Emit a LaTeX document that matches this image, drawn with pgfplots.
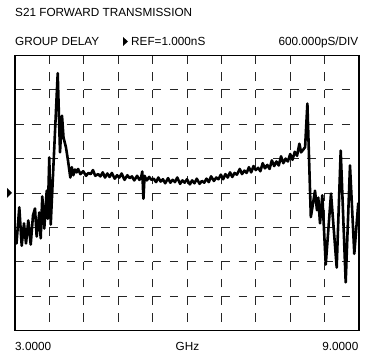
\documentclass[border=0pt]{standalone}
\usepackage{pgfplots}
\pgfplotsset{compat=1.18}
\usepackage{fontspec}
\setmainfont{Liberation Sans}
\begin{document}
\fontsize{11.8}{14}\selectfont
\begin{tikzpicture}
\useasboundingbox (0,0) rectangle (365bp,353bp);
\begin{axis}[
  at={(15bp,22.5bp)}, anchor=south west,
  scale only axis, width=344bp, height=275bp,
  xmin=3, xmax=9, ymin=-1.4, ymax=3.4,
  xtick={3,3.6,...,9.01}, ytick={-1.4,-0.8,...,3.41},
  xticklabels={}, yticklabels={},
  major tick length=0pt,
  grid=major,
  major x grid style={black!85, line width=0.8bp, dash pattern=on 8.6bp off 8.6bp, dash phase=8.6bp},
  major y grid style={black!85, line width=0.8bp, dash pattern=on 8.6bp off 8.6bp},
  axis line style={black, line width=1.8bp},
  clip=false,
]
\addplot[black, line width=2.6bp, line join=round] coordinates {
(3.005,0.26) (3.026,0.12) (3.075,0.75) (3.117,0.08) (3.157,0.47) (3.192,0.12)
(3.232,0.52) (3.274,0.10) (3.314,0.61) (3.349,0.73) (3.378,0.24) (3.424,0.66)
(3.448,0.21) (3.476,0.94) (3.511,0.38) (3.553,1.04) (3.570,0.55) (3.598,1.62)
(3.623,0.45) (3.745,3.09) (3.785,1.71) (3.820,2.35) (3.846,1.97) (3.890,1.79)
(3.924,1.57) (3.965,1.27) (3.991,1.45) (4.017,1.31) (4.047,1.41) (4.076,1.36)
(4.10,1.42) (4.14,1.33) (4.19,1.38) (4.24,1.30) (4.28,1.35) (4.32,1.33) (4.36,1.40)
(4.40,1.30) (4.45,1.33) (4.49,1.29) (4.53,1.36) (4.57,1.27) (4.61,1.34) (4.65,1.28)
(4.69,1.35) (4.74,1.25) (4.78,1.31) (4.82,1.27) (4.86,1.34) (4.91,1.23)
(4.96,1.31) (5.00,1.26) (5.04,1.29) (5.08,1.22) (5.13,1.30) (5.17,1.23) (5.20,1.27) (5.22,1.375)
(5.24,0.90) (5.26,1.30) (5.30,1.22) (5.34,1.28) (5.38,1.23) (5.42,1.25) (5.46,1.19)
(5.50,1.27) (5.54,1.20) (5.58,1.24) (5.62,1.17) (5.67,1.26) (5.71,1.18) (5.75,1.23)
(5.79,1.19) (5.83,1.27) (5.88,1.16) (5.92,1.22) (5.96,1.18) (6.00,1.24) (6.05,1.15)
(6.09,1.22) (6.13,1.17) (6.17,1.25) (6.22,1.16) (6.26,1.21) (6.30,1.18) (6.34,1.25)
(6.38,1.19) (6.42,1.29) (6.47,1.21) (6.51,1.27) (6.55,1.24) (6.59,1.32) (6.63,1.24)
(6.67,1.33) (6.71,1.27) (6.75,1.36) (6.79,1.28) (6.83,1.35) (6.87,1.32) (6.92,1.42)
(6.96,1.33) (7.00,1.39) (7.04,1.35) (7.08,1.45) (7.12,1.36) (7.16,1.47) (7.20,1.40)
(7.24,1.44) (7.28,1.38) (7.32,1.52) (7.36,1.43) (7.40,1.49) (7.44,1.42) (7.48,1.57)
(7.52,1.47) (7.56,1.55) (7.60,1.48) (7.64,1.64) (7.68,1.52) (7.72,1.60) (7.76,1.55)
(7.80,1.68) (7.84,1.58) (7.88,1.72) (7.92,1.65) (7.96,1.86) (7.99,1.71)
(8.03,1.76) (8.06,1.80) (8.10,2.56)
(8.16,0.58) (8.233,1.04) (8.267,0.70) (8.290,0.92) (8.320,0.47) (8.360,0.96)
(8.420,-0.25) (8.512,0.99) (8.611,-0.30) (8.681,1.74) (8.768,-0.56) (8.843,1.48)
(8.918,-0.06) (8.988,0.83)
};
\coordinate (refpt) at (axis cs:3,1.0);
\end{axis}
\fill[black] ([xshift=-3bp]refpt) -- ++(-5bp,5bp) -- ++(0,-10bp) -- cycle;
\node[anchor=base west, inner sep=0] at (15bp,336.5bp) {S21 FORWARD TRANSMISSION};
\node[anchor=base west, inner sep=0] at (15bp,307bp) {GROUP DELAY};
\fill[black] (128bp,311.5bp) -- ++(-5bp,4.5bp) -- ++(0,-9bp) -- cycle;
\node[anchor=base west, inner sep=0] at (131bp,307bp) {REF=1.000nS};
\node[anchor=base east, inner sep=0] at (358.5bp,307bp) {600.000pS/DIV};
\node[anchor=base west, inner sep=0] at (15bp,2.5bp) {3.0000};
\node[anchor=base, inner sep=0] at (187.5bp,2.5bp) {GHz};
\node[anchor=base east, inner sep=0] at (358.5bp,2.5bp) {9.0000};
\end{tikzpicture}
\end{document}
